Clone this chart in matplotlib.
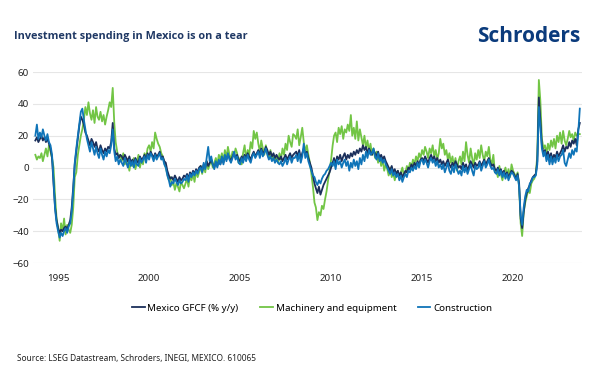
import numpy as np
import pandas as pd
import matplotlib
matplotlib.use("Agg")
import matplotlib.pyplot as plt
import matplotlib.dates as mdates

# monthly % y/y from Oct 1993 to Sep 2023
start_month = "1993-10-01"

gfcf = [
    17, 19, 16,
    18, 20, 17, 19, 16, 18, 15, 12, 6, -10, -25, -33,
    -38, -41, -39, -40, -38, -37, -39, -36, -33, -25, -12, 2,
    10, 18, 26, 32, 30, 27, 22, 20, 17, 14, 18, 16,
    13, 16, 12, 10, 14, 11, 9, 12, 10, 13, 12, 16,
    28, 12, 8, 9, 6, 8, 7, 5, 8, 6, 4, 7,
    3, 5, 2, 6, 4, 3, 7, 5, 6, 8, 5, 9,
    7, 10, 8, 6, 9, 7, 8, 10, 6, 7, 4, 3,
    -2, -5, -7, -6, -8, -5, -7, -9, -6, -8, -7, -5,
    -6, -4, -7, -3, -5, -2, -4, -1, -3, 0, 1, -2,
    2, 0, 4, 1, 3, 5, 2, 0, 3, 1, 4, 2,
    6, 3, 7, 5, 8, 6, 4, 7, 9, 6, 8, 5,
    4, 7, 5, 8, 6, 9, 7, 5, 8, 10, 7, 9,
    11, 8, 12, 9, 10, 13, 11, 8, 10, 7, 9, 6,
    8, 6, 5, 7, 4, 6, 8, 5, 7, 9, 6, 8,
    9, 10, 7, 11, 6, 9, 12, 8, 10, 6, 3, 0, -5,
    -10, -13, -16, -12, -17, -14, -11, -9, -7, -5, -3, 0,
    3, 6, 2, 7, 5, 8, 4, 7, 9, 5, 8, 6,
    9, 7, 10, 8, 11, 9, 12, 10, 14, 11, 13, 9,
    12, 10, 8, 11, 9, 7, 10, 6, 8, 5, 7, 4,
    2, 0, -2, 1, -3, -1, -4, -2, -5, -3, -6, -4,
    -2, -3, 0, -1, 2, 0, 3, 1, 4, 2, 5, 6,
    4, 7, 5, 3, 6, 8, 5, 7, 4, 6, 3, 5,
    2, 4, 1, 3, 5, 2, 0, 3, 1, 4, 2, 0,
    1, -1, 3, 0, 2, -2, 1, 4, 2, 0, 3, 1,
    2, 4, 1, 3, 5, 2, 4, 6, 3, 1, 2, -1,
    -2, 0, -3, -1, -4, -2, -5, -3, -6, -4, -2, -3, -5,
    -7, -4, -10, -32, -38, -28, -20, -16, -13, -11, -8, -6,
    -5, -4, 4, 44, 30, 14, 9, 11, 7, 10, 6, 9,
    5, 8, 6, 10, 7, 9, 11, 14, 10, 13,
    12, 16, 13, 17, 15, 18, 14, 24, 28,
]

machinery = [
    8, 5, 7,
    6, 9, 4, 8, 12, 7, 14, 10, 6, 0, -18, -32,
    -38, -46, -35, -40, -32, -42, -36, -39, -41, -36, -25, -6,
    -3, 8, 14, 20, 24, 30, 38, 33, 41, 34, 30, 36,
    28, 38, 32, 30, 35, 29, 33, 27, 32, 36, 41, 38,
    50, 28, 16, 10, 6, 8, 4, 9, 2, 6, 3, -2,
    4, 1, 6, -1, 3, 8, 0, 5, 2, 9, 6, 12,
    14, 10, 16, 12, 22, 18, 15, 13, 9, 7, 3, 0,
    -4, -8, -6, -11, -9, -14, -10, -12, -15, -9, -11, -13,
    -10, -7, -12, -5, -8, -4, -9, -2, -6, -3, 1, -4,
    1, -3, 4, -1, 2, 5, 0, 3, 6, 2, 8, 5,
    9, 4, 11, 6, 13, 8, 5, 10, 7, 12, 9, 3,
    6, 2, 9, 14, 5, 11, 8, 16, 12, 23, 18, 22,
    15, 10, 17, 12, 8, 14, 9, 6, 11, 5, 8, 4,
    7, 3, 9, 5, 12, 8, 15, 11, 20, 16, 13, 21,
    20, 18, 24, 14, 19, 25, 16, 10, 14, 8, 3, -4, -12,
    -22, -25, -33, -28, -30, -24, -26, -20, -15, -8, -2, 5,
    14, 20, 22, 16, 25, 21, 26, 18, 24, 22, 27, 23,
    33, 20, 25, 18, 29, 17, 24, 19, 14, 20, 12, 17,
    10, 15, 8, 12, 6, 10, 3, 7, 1, 5, -2, 2,
    -1, -5, 0, -6, -3, -8, -4, -2, -7, -3, 0, -5,
    -3, 1, -2, 3, 0, 5, 2, 7, 4, 9, 6, 11,
    8, 13, 10, 6, 12, 9, 14, 7, 11, 5, 9, 18,
    12, 15, 8, 11, 5, 9, 3, 7, 1, 6, -2, 4,
    7, 2, 10, 4, 16, 8, 3, 12, 6, 1, 9, 5,
    11, 6, 14, 8, 4, 10, 7, 13, 5, 2, 8, -3,
    -2, -6, 1, -4, -8, -3, 0, -5, -1, -6, 2, -2, -4,
    -6, -3, -12, -35, -43, -28, -22, -18, -14, -16, -10, -8,
    -7, -4, 8, 55, 42, 18, 12, 14, 9, 15, 11, 17,
    13, 18, 12, 20, 16, 22, 15, 23, 17, 14,
    18, 23, 19, 21, 17, 22, 20, 21, 21,
]

construction = [
    20, 27, 18,
    22, 19, 24, 20, 17, 21, 16, 14, 8, -8, -26, -35,
    -40, -44, -41, -43, -40, -38, -41, -37, -35, -28, -14, 3,
    12, 20, 28, 35, 37, 30, 24, 18, 14, 10, 16, 12,
    8, 13, 9, 6, 12, 8, 5, 10, 7, 11, 9, 14,
    24, 10, 4, 7, 2, 5, 3, 1, 6, 3, 0, 5,
    1, 4, 0, 5, 2, 1, 6, 3, 5, 7, 3, 8,
    5, 9, 7, 4, 8, 5, 7, 9, 5, 6, 2, 0,
    -5, -8, -12, -9, -10, -7, -9, -11, -8, -10, -9, -7,
    -8, -5, -9, -4, -6, -3, -5, -2, -4, -1, 0, -3,
    3, -1, 6, 13, 4, 7, 2, -1, 4, 0, 5, 2,
    7, 2, 8, 4, 9, 5, 3, 6, 10, 5, 7, 3,
    2, 6, 3, 7, 4, 8, 5, 3, 7, 9, 6, 8,
    10, 6, 11, 7, 9, 12, 8, 5, 7, 4, 6, 3,
    5, 3, 2, 4, 1, 3, 6, 2, 5, 7, 3, 6,
    6, 8, 4, 9, 3, 7, 15, 6, 9, 4, 1, -2, -5,
    -6, -9, -11, -8, -10, -7, -5, -4, -2, -1, 1, 3,
    1, 4, -1, 5, 2, 4, 0, 3, 5, 1, 4, -2,
    3, 0, 5, 1, 4, -1, 6, 2, 8, 4, 10, 6,
    11, 8, 9, 12, 7, 5, 9, 4, 6, 3, 5, 2,
    0, -2, -4, -1, -5, -3, -6, -4, -8, -5, -9, -6,
    -4, -6, -2, -3, 0, -2, 1, -1, 3, 0, 4, 5,
    2, 5, 3, 0, 4, 6, 3, 5, 1, 4, 0, 2,
    -1, 2, -3, 0, 3, -2, -4, 1, -3, 2, -1, -4,
    -2, -5, 1, -3, 0, -4, -1, 2, -2, -5, 1, -1,
    0, 3, -2, 1, 4, 0, 2, 5, 1, -1, 0, -3,
    -4, -1, -5, -2, -6, -3, -7, -4, -8, -5, -3, -4, -6,
    -8, -5, -12, -30, -36, -25, -18, -14, -15, -10, -9, -6,
    -6, -5, 2, 38, 25, 12, 7, 10, 4, 8, 2, 7,
    2, 6, 3, 8, 4, 7, 8, 11, 3, 1,
    5, 9, 6, 11, 8, 12, 10, 22, 37,
]

tick_years = [1995, 2000, 2005, 2010, 2015, 2020]
y_ticks = [-60, -40, -20, 0, 20, 40, 60]

dates = pd.date_range(start_month, periods=len(gfcf), freq="MS")

navy = "#1b2f5b"
green = "#72c545"
blue = "#0f74b8"
title_col = "#1f3864"

plt.rcParams["font.family"] = ["Noto Sans", "DejaVu Sans"]

fig = plt.figure(figsize=(6, 3.83), dpi=100)
ax = fig.add_axes([0.055, 0.313, 0.915, 0.499])

l2, = ax.plot(dates, machinery, color=green, lw=1.3, label="Machinery and equipment")
l1, = ax.plot(dates, gfcf, color=navy, lw=1.3, label="Mexico GFCF (% y/y)")
l3, = ax.plot(dates, construction, color=blue, lw=1.3, label="Construction")

ax.set_ylim(-60, 60)
ax.set_yticks(y_ticks)
ax.set_xticks([pd.Timestamp(f"{y}-01-01") for y in tick_years])
ax.xaxis.set_major_formatter(mdates.DateFormatter("%Y"))
ax.set_xlim(pd.Timestamp("1993-08-15"), pd.Timestamp("2023-10-15"))

ax.grid(axis="y", color="#e6e6e6", lw=0.8)
ax.set_axisbelow(True)
for s in ax.spines.values():
    s.set_visible(False)
ax.tick_params(length=0, labelsize=7, colors="#222222", pad=3)
ax.tick_params(axis="x", pad=8)

fig.legend(handles=[l1, l2, l3], loc="center", bbox_to_anchor=(0.52, 0.195),
           ncol=3, frameon=False, fontsize=7, handlelength=1.3,
           handletextpad=0.3, columnspacing=2.2)

fig.text(0.024, 0.905, "Investment spending in Mexico is on a tear",
         fontsize=7.8, fontweight="bold", color=title_col, va="center",
         family="Open Sans")
fig.text(0.967, 0.905, "Schroders", fontsize=15, fontweight="bold",
         color="#0b3b7c", ha="right", va="center", family="Open Sans")
fig.text(0.028, 0.065, "Source: LSEG Datastream, Schroders, INEGI, MEXICO. 610065",
         fontsize=6, color="#222222", va="center")

fig.savefig("out.png", dpi=100)
